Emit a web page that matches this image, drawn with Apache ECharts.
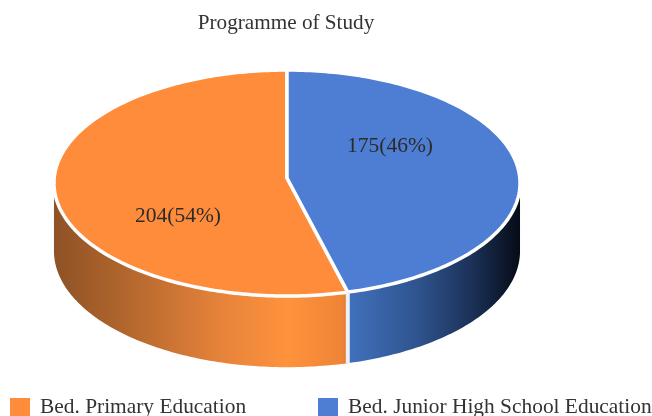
<!DOCTYPE html>
<html>
<head>
<meta charset="utf-8">
<style>
  html, body { margin: 0; padding: 0; background: #fff; }
  #chart { width: 652px; height: 416px; }
</style>
<script src="https://cdn.jsdelivr.net/npm/echarts@6/dist/echarts.min.js"></script>
</head>
<body>
<div id="chart"></div>
<script>
const chartTitle = 'Programme of Study';
const categories = ['Bed. Primary Education', 'Bed. Junior High School Education'];
const values = [204, 175];
const sliceColors = ['#FF8C3B', '#4D7ED3'];

// ECharts has no 3D pie, so the tilted disc is projected by hand
const cx = 287, cy = 178, rx = 232.8, ry = 112.8, tilt = 0.0444, depth = 68;
const seamSkew = 0.7; // the source picture's perspective pulls the front seam a little to the right
const labelAnchors = [[178, 216], [390, 146]];
const legendLefts = [10, 318];
const wallStops = [
  [[0, '#8E5226'], [0.1, '#A55F2A'], [0.36, '#E6833A'], [0.5, '#FF923D'], [0.62, '#EE8436'], [0.63, '#DE7A30']],
  [[0.63, '#4171BD'], [0.78, '#2F548F'], [0.9, '#1B3157'], [1, '#060C18']]
];

const total = values.reduce((a, b) => a + b, 0);

function project(deg, drop) {
  const t = deg * Math.PI / 180;
  const w = 1 + tilt * Math.cos(t);
  return [cx + rx * Math.sin(t) / w, cy + (drop - ry * Math.cos(t)) / w];
}

function arcPoints(from, to, drop) {
  const pts = [];
  const steps = Math.max(2, Math.ceil(Math.abs(to - from)));
  for (let i = 0; i <= steps; i++) {
    pts.push(project(from + (to - from) * i / steps, drop));
  }
  return pts;
}

function skewed(deg) {
  return deg - seamSkew * Math.sin(deg / 2 * Math.PI / 180);
}

// slices run anticlockwise from 12 o'clock, first category on the left
function sliceAngles(index) {
  const before = values.slice(0, index).reduce((a, b) => a + b, 0);
  return [
    skewed(360 - (before + values[index]) / total * 360),
    skewed(360 - before / total * 360)
  ];
}

function renderSlice(params, api) {
  const i = params.seriesIndex;
  const [start, end] = sliceAngles(i);
  const children = [];

  // only the front of the rim is visible
  const wallFrom = Math.max(start, 92.5);
  const wallTo = Math.min(end, 267.5);
  if (wallTo > wallFrom) {
    const wall = arcPoints(wallFrom, wallTo, 0).concat(arcPoints(wallTo, wallFrom, depth));
    children.push({
      type: 'polygon',
      shape: { points: wall },
      style: {
        fill: new echarts.graphic.LinearGradient(
          54, 0, 519, 0,
          wallStops[i].map(s => ({ offset: s[0], color: s[1] })),
          true
        )
      }
    });
  }

  children.push({
    type: 'polygon',
    shape: { points: [[cx, cy]].concat(arcPoints(start, end, 0)) },
    style: { fill: sliceColors[i], stroke: '#fff', lineWidth: 3.5, lineJoin: 'round' }
  });

  const pct = Math.round(api.value(0) / total * 100);
  children.push({
    type: 'text',
    z2: 10,
    style: {
      text: api.value(0) + '(' + pct + '%)',
      x: labelAnchors[i][0],
      y: labelAnchors[i][1],
      textAlign: 'center',
      textVerticalAlign: 'middle',
      fill: '#2b2b2b',
      font: '21.5px "Liberation Serif"'
    }
  });

  return { type: 'group', children };
}

// white seam down the wall where the two slices meet
function renderSeam() {
  const seam = sliceAngles(0)[0];
  const top = project(seam, 0);
  const bottom = project(seam, depth);
  return {
    type: 'line',
    shape: { x1: top[0], y1: top[1], x2: bottom[0], y2: bottom[1] },
    style: { stroke: '#EEF0F6', lineWidth: 4 }
  };
}

const chart = echarts.init(document.getElementById('chart'), null, { renderer: 'canvas' });

chart.setOption({
  animation: false,
  backgroundColor: '#fff',
  color: sliceColors,
  title: {
    text: chartTitle,
    left: 281,
    top: 8,
    textAlign: 'center',
    textStyle: { fontFamily: 'Liberation Serif', fontSize: 21.2, fontWeight: 'normal', color: '#333' }
  },
  // two legends so each entry can sit where the source has it
  legend: categories.map((name, i) => ({
    left: legendLefts[i],
    top: 397,
    padding: 0,
    itemWidth: 20,
    itemHeight: 19,
    icon: 'rect',
    textStyle: { fontFamily: 'Liberation Serif', fontSize: 21.4, color: '#333', padding: [0, 0, 0, 5] },
    data: [name]
  })),
  series: categories.map((name, i) => ({
    type: 'custom',
    name,
    coordinateSystem: 'none',
    silent: true,
    renderItem: renderSlice,
    data: [values[i]]
  })).concat([{
    type: 'custom',
    coordinateSystem: 'none',
    silent: true,
    renderItem: renderSeam,
    data: [0]
  }])
});

window.addEventListener('resize', () => chart.resize());
</script>
</body>
</html>
